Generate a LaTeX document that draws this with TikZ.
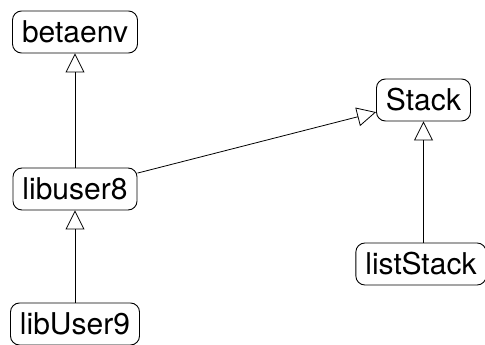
\documentclass[tikz,border=0pt]{standalone}
\usepackage{fontspec}
\setmainfont{TeX Gyre Heros}
\usetikzlibrary{arrows.meta}
\begin{document}
\begin{tikzpicture}[x=1pt,y=-1pt,
  classbox/.style={draw,rounded corners=9pt,line width=0.9pt,minimum height=42pt,inner xsep=9.5pt,inner ysep=0pt,font=\fontsize{30}{31}\selectfont},
  inherit/.style={-{Triangle[open,length=19pt,width=19pt]},line width=0.8pt}]
\useasboundingbox (0,0) rectangle (485,345);
\node[classbox] (betaenv) at (75,32) {betaenv};
\node[classbox] (Stack) at (423.5,100) {Stack};
\node[classbox] (libuser8) at (75,189) {libuser8};
\node[classbox] (listStack) at (421,264) {listStack};
\node[classbox] (libUser9) at (75,324) {libUser9};
\draw[inherit] (libuser8) -- (betaenv);
\draw[inherit] (libUser9) -- (libuser8);
\draw[inherit] (libuser8) -- (Stack);
\draw[inherit] (Stack.south |- listStack.north) -- (Stack.south);
\end{tikzpicture}
\end{document}
